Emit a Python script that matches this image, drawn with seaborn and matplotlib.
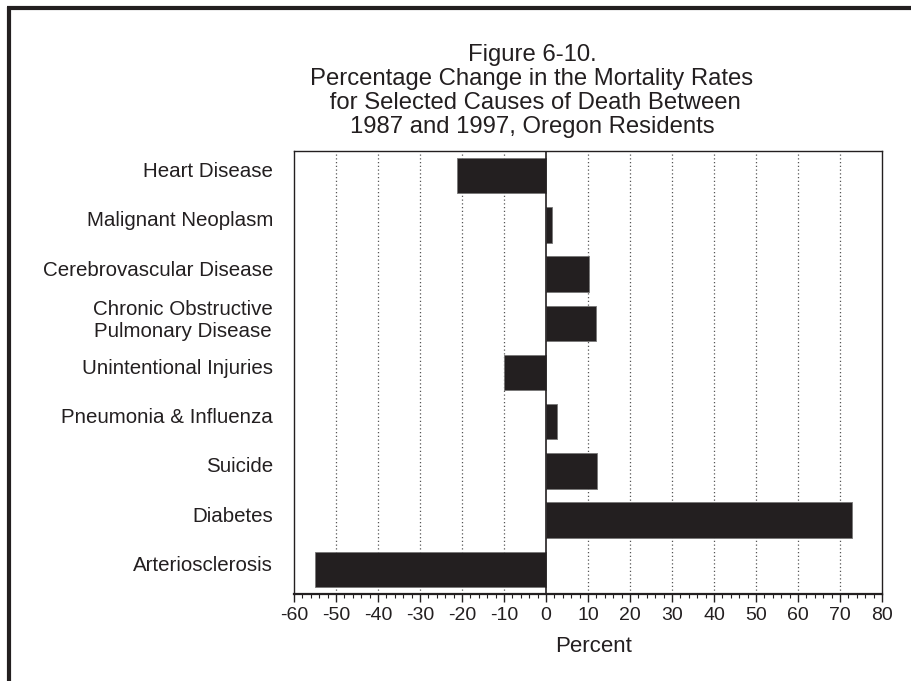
import matplotlib
matplotlib.use("Agg")
import matplotlib.pyplot as plt
import matplotlib.transforms as mtransforms
from matplotlib.lines import Line2D
from matplotlib.ticker import MultipleLocator
import seaborn as sns
import pandas as pd

causes = ["Heart Disease", "Malignant Neoplasm", "Cerebrovascular Disease",
          "Chronic Obstructive\nPulmonary Disease", "Unintentional Injuries",
          "Pneumonia & Influenza", "Suicide", "Diabetes", "Arteriosclerosis"]
pct_change = [-21.1, 1.5, 10.3, 11.9, -9.9, 2.6, 12.2, 72.8, -55.0]
x_ticks = [-60, -50, -40, -30, -20, -10, 0, 10, 20, 30, 40, 50, 60, 70, 80]
title_lines = ["Figure 6-10.", "Percentage Change in the Mortality Rates",
               " for Selected Causes of Death Between",
               "1987 and 1997, Oregon Residents"]

df = pd.DataFrame({"cause": causes, "pct": pct_change})

sns.set_theme(style="white")
plt.rcParams['font.family'] = ['Liberation Sans', 'DejaVu Sans']
plt.rcParams['axes.unicode_minus'] = False

fig = plt.figure(figsize=(9.11, 6.81), dpi=100)
ax = fig.add_axes([294/911, 1-594/681, (882-294)/911, (594-151)/681])

sns.barplot(data=df, x="pct", y="cause", orient="h", color="#231f20",
            saturation=1, width=0.72, edgecolor="#777777", linewidth=0.6, ax=ax)

ax.set_xlim(-60, 80)
ax.set_ylim(8.5, -0.5)
ax.set_xticks(x_ticks)
ax.set_xticklabels([str(t) for t in x_ticks], fontsize=14, color="#231f20")
ax.xaxis.set_minor_locator(MultipleLocator(2))
ax.tick_params(axis="x", which="major", direction="out", length=6, width=1,
               color="#231f20", bottom=True, pad=3)
ax.tick_params(axis="x", which="minor", direction="out", length=3, width=0.8,
               color="#231f20", bottom=True)
ax.tick_params(axis="y", length=0, pad=15)
offset = mtransforms.ScaledTranslation(0, 6/100, fig.dpi_scale_trans)
for lab in ax.get_yticklabels():
    lab.set_fontsize(14.8)
    lab.set_color("#231f20")
    lab.set_multialignment("center")
    lab.set_transform(lab.get_transform() + offset)

for t in x_ticks:
    if t not in (-60, 0, 80):
        ax.axvline(t, color="#555555", lw=0.9, ls=(0, (1, 2)), zorder=0)
ax.axvline(0, color="#231f20", lw=1.2, zorder=3)

for s in ax.spines.values():
    s.set_color("#231f20")
    s.set_linewidth(1.0)
ax.spines["bottom"].set_linewidth(1.6)

ax.set_ylabel("")
ax.set_xlabel("Percent", fontsize=16, color="#231f20")
ax.xaxis.set_label_coords((594-294)/(882-294), -(646-594)/(594-151))
ax.xaxis.label.set_va("center")

ys = [55, 79, 103, 127]
for line, y in zip(title_lines, ys):
    fig.text(532/911, 1-y/681, line, ha="center", va="center",
             fontsize=17.2, color="#231f20")

fig.add_artist(Line2D([9/911, 9/911], [0, 1-7/681], transform=fig.transFigure,
                      color="#231f20", lw=3, solid_capstyle="butt"))
fig.add_artist(Line2D([7/911, 1], [1-8/681, 1-8/681], transform=fig.transFigure,
                      color="#231f20", lw=3, solid_capstyle="butt"))

fig.savefig("out.png", dpi=100)
